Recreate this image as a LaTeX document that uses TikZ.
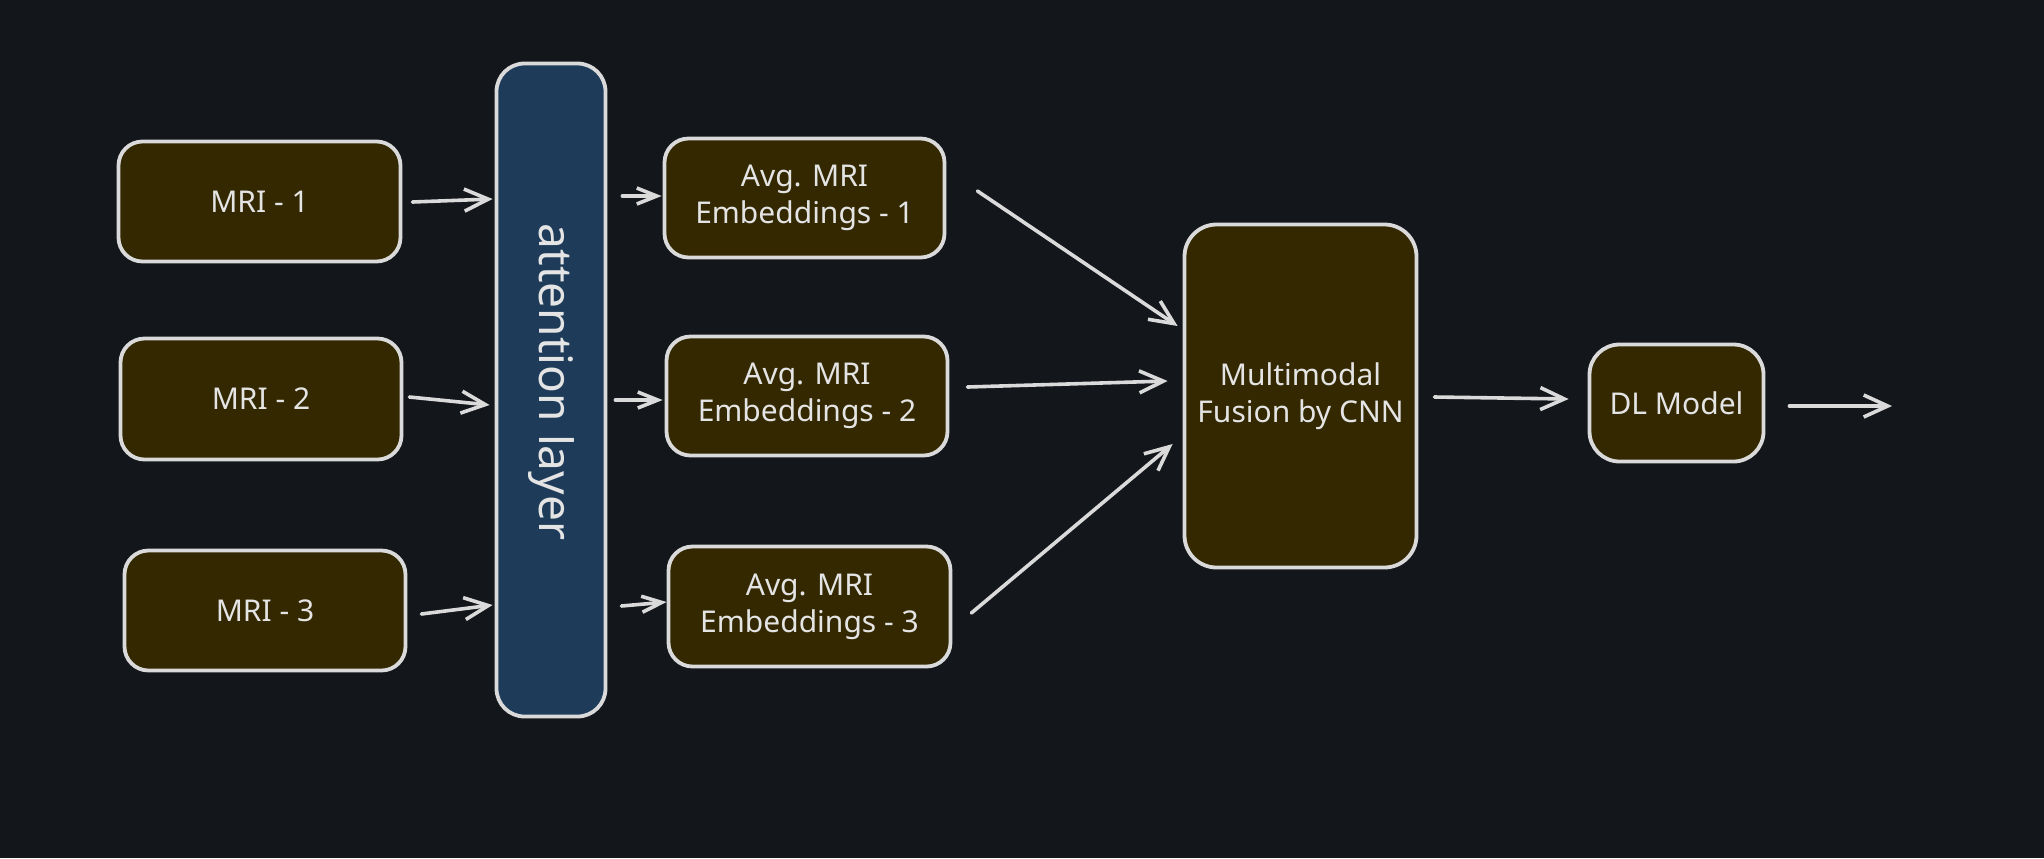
\documentclass[tikz,border=0pt]{standalone}
\usepackage{fontspec}
\setmainfont{Noto Sans}
\usetikzlibrary{arrows.meta,calc}
\definecolor{bgc}{RGB}{19,22,27}
\definecolor{boxfill}{RGB}{51,40,0}
\definecolor{attfill}{RGB}{30,60,90}
\definecolor{strokec}{RGB}{218,218,218}
\definecolor{textc}{RGB}{228,228,228}
\begin{document}
\begin{tikzpicture}[x=0.5pt,y=-0.5pt,
  box/.style={draw=strokec, line width=1.9pt, fill=boxfill, rounded corners=12pt,
    text=textc, font=\fontsize{15}{18.5}\selectfont, align=center, inner sep=0pt},
  attbox/.style={box, fill=attfill, rounded corners=14pt},
  attlbl/.style={text=textc, font=\fontsize{23}{27}\selectfont, rotate=-90, inner sep=0pt},
  arr/.style={draw=strokec, line width=1.8pt, line cap=round,
    -{Straight Barb[length=12pt,width=11pt]}},
  sarr/.style={arr, -{Straight Barb[length=10pt,width=8pt]}}]
\fill[bgc] (0,0) rectangle (2044,858);
\useasboundingbox (0,0) rectangle (2044,858);

\node[box, minimum width=141pt, minimum height=60pt] (m1) at (259.5,201.5) {MRI - 1};
\node[box, minimum width=140.5pt, minimum height=60.5pt] (m2) at (261,399) {MRI - 2};
\node[box, minimum width=140.5pt, minimum height=60pt] (m3) at (265,610.5) {MRI - 3};

\node[attbox, minimum width=54.5pt, minimum height=326.5pt] (att) at (551,390) {};
\node[attlbl] (attlabel) at ($(att.center)+(0,-8)$) {attention layer};

\node[box, minimum width=140pt, minimum height=59.5pt] (a1) at (804.5,198) {Avg. MRI\\Embeddings - 1};
\node[box, minimum width=140.5pt, minimum height=59.5pt] (a2) at (807,396) {Avg. MRI\\Embeddings - 2};
\node[box, minimum width=141pt, minimum height=60pt] (a3) at (809.5,606.5) {Avg. MRI\\Embeddings - 3};

\node[box, rounded corners=16pt, minimum width=116pt, minimum height=171.5pt] (fus) at (1300.5,396) {Multimodal\\Fusion by CNN};
\node[box, rounded corners=15pt, minimum width=87pt, minimum height=58.5pt] (dl) at (1676.5,403) {DL Model};
\coordinate (out) at (1892,406);

\draw[arr] ($(m1.east)+(10,0.5)$) -- ($(att.west)+(-2,-191)$);
\draw[arr] ($(m2.east)+(6,-2)$) -- ($(att.west)+(-5,15)$);
\draw[arr] ($(m3.east)+(14,3.5)$) -- ($(att.west)+(-2,215)$);

\draw[sarr] ($(att.east)+(15,-194)$) -- ($(a1.west)+(-1,-2)$);
\draw[sarr] ($(att.east)+(8,10)$) -- ($(a2.west)+(-2,4)$);
\draw[sarr] ($(att.east)+(14,216)$) -- ($(a3.west)+(0,-4.5)$);

\draw[arr] ($(a1.east)+(31,-7)$) -- ($(fus.west)+(-5,-70)$);
\draw[arr] ($(a2.east)+(18,-9)$) -- ($(fus.west)+(-15,-15)$);
\draw[arr] ($(a3.east)+(19,6.5)$) -- ($(fus.west)+(-10,48)$);

\draw[arr] ($(fus.east)+(16,1)$) -- ($(dl.west)+(-19,-4)$);
\draw[arr] ($(dl.east)+(24,3)$) -- (out);
\end{tikzpicture}
\end{document}
